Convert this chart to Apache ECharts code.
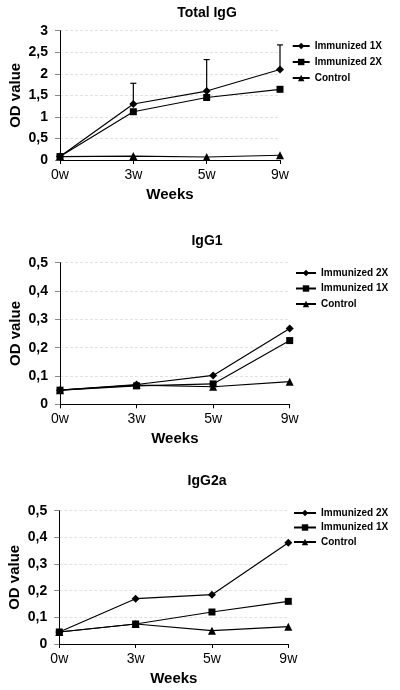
<!DOCTYPE html>
<html><head><meta charset="utf-8">
<script src="https://cdn.jsdelivr.net/npm/echarts@6/dist/echarts.min.js"></script>
<style>html,body{margin:0;padding:0;background:#fff}#c{width:400px;height:690px}</style>
</head><body><div id="c"></div>
<script>
const weeks = ['0w', '3w', '5w', '9w'];
const titles = ['Total IgG', 'IgG1', 'IgG2a'];

// Panel 1: Total IgG
const totalImm1X = [0.08, 1.30, 1.60, 2.10];
const totalImm1XErrHigh = [null, 1.78, 2.33, 2.67];
const totalImm2X = [0.08, 1.12, 1.45, 1.64];
const totalControl = [0.08, 0.09, 0.07, 0.11];

// Panel 2: IgG1
const igg1Imm2X = [0.05, 0.07, 0.102, 0.268];
const igg1Imm1X = [0.05, 0.065, 0.072, 0.225];
const igg1Control = [0.05, 0.068, 0.062, 0.08];

// Panel 3: IgG2a
const igg2aImm2X = [0.045, 0.17, 0.185, 0.38];
const igg2aImm1X = [0.045, 0.075, 0.12, 0.16];
const igg2aControl = [0.045, 0.075, 0.05, 0.065];

const FONT = 'Liberation Sans, Arial, sans-serif';
const chart = echarts.init(document.getElementById('c'), null, {renderer: 'canvas'});

const grids = [
  {left: 60, top: 30.7, right: 120, bottom: 530, containLabel: false, outerBoundsMode: 'none'},
  {left: 60, top: 262.7, right: 110.3, bottom: 285.7, containLabel: false, outerBoundsMode: 'none'},
  {left: 59.3, top: 510.7, right: 111.7, bottom: 46, containLabel: false, outerBoundsMode: 'none'}
];
const yMax = [3, 0.5, 0.5];
const yInt = [0.5, 0.1, 0.1];
const titleTops = [1, 229, 469];

function xAxis(i) {
  return {
    type: 'category', gridIndex: i, data: weeks, boundaryGap: false,
    axisLine: {lineStyle: {color: '#000', width: 1}},
    axisTick: {show: true, length: 4, alignWithLabel: true, lineStyle: {color: '#000'}},
    axisLabel: {color: '#000', fontSize: 14, fontFamily: FONT, margin: 8},
    splitLine: {show: false},
    name: 'Weeks', nameLocation: 'middle', nameGap: 27, nameMoveOverlap: false,
    nameTextStyle: {color: '#000', fontSize: 15, fontWeight: 'bold', fontFamily: FONT}
  };
}
function yAxis(i) {
  return {
    type: 'value', gridIndex: i, min: 0, max: yMax[i], interval: yInt[i],
    axisLine: {show: true, lineStyle: {color: '#000', width: 1}},
    axisTick: {show: true, length: 5, lineStyle: {color: '#888'}},
    axisLabel: {color: '#000', fontSize: 14, fontWeight: 'bold', fontFamily: FONT, margin: 12,
      formatter: v => String(+v.toFixed(2)).replace('.', ',')},
    splitLine: {show: true, lineStyle: {color: '#e2e2e2', type: [3, 2], width: 1}},
    name: 'OD value', nameLocation: 'middle', nameGap: 37, nameMoveOverlap: false,
    nameTextStyle: {color: '#000', fontSize: 15, fontWeight: 'bold', fontFamily: FONT}
  };
}
const symMap = {diamond: ['diamond', 8], rect: ['rect', 7], triangle: ['triangle', 8]};
function line(name, panel, data, sym) {
  return {
    type: 'line', name: name + '#' + panel, xAxisIndex: panel, yAxisIndex: panel, data: data,
    symbol: symMap[sym][0], symbolSize: symMap[sym][1], showSymbol: true,
    lineStyle: {color: '#000', width: 1.2}, itemStyle: {color: '#000'},
    z: 3
  };
}
function legend(panel, names, left, top, gap, w) {
  return {
    orient: 'vertical', left: left, top: top, itemWidth: w, itemHeight: 8, itemGap: gap,
    data: names.map(n => n + '#' + panel),
    formatter: n => n.split('#')[0],
    textStyle: {color: '#000', fontSize: 10, fontWeight: 'bold', fontFamily: FONT},
    selectedMode: false
  };
}

const errData = totalImm1XErrHigh.map((h, i) => h == null ? null : [i, totalImm1X[i], h]).filter(d => d);

const option = {
  animation: false,
  backgroundColor: '#fff',
  title: titles.map((t, i) => ({
    text: t, left: 202, top: titleTops[i], textAlign: 'center',
    textStyle: {color: '#000', fontSize: 14, fontWeight: 'bold', fontFamily: FONT}
  })),
  grid: grids,
  xAxis: [0, 1, 2].map(xAxis),
  yAxis: [0, 1, 2].map(yAxis),
  legend: [
    legend(0, ['Immunized 1X', 'Immunized 2X', 'Control'], 286.7, 36, 6, 17),
    legend(1, ['Immunized 2X', 'Immunized 1X', 'Control'], 290, 263, 5.5, 20),
    legend(2, ['Immunized 2X', 'Immunized 1X', 'Control'], 288, 503, 4.5, 22)
  ],
  series: [
    {
      type: 'custom', xAxisIndex: 0, yAxisIndex: 0, data: errData, z: 2,
      renderItem: (params, api) => {
        const p0 = api.coord([api.value(0), api.value(1)]);
        const p1 = api.coord([api.value(0), api.value(2)]);
        const st = {stroke: '#000', lineWidth: 1.2};
        return {type: 'group', children: [
          {type: 'line', shape: {x1: p0[0], y1: p0[1], x2: p1[0], y2: p1[1]}, style: st},
          {type: 'line', shape: {x1: p1[0] - 3, y1: p1[1], x2: p1[0] + 3, y2: p1[1]}, style: st}
        ]};
      }
    },
    line('Immunized 1X', 0, totalImm1X, 'diamond'),
    line('Immunized 2X', 0, totalImm2X, 'rect'),
    line('Control', 0, totalControl, 'triangle'),
    line('Immunized 2X', 1, igg1Imm2X, 'diamond'),
    line('Immunized 1X', 1, igg1Imm1X, 'rect'),
    line('Control', 1, igg1Control, 'triangle'),
    line('Immunized 2X', 2, igg2aImm2X, 'diamond'),
    line('Immunized 1X', 2, igg2aImm1X, 'rect'),
    line('Control', 2, igg2aControl, 'triangle')
  ]
};
chart.setOption(option);
</script></body></html>
